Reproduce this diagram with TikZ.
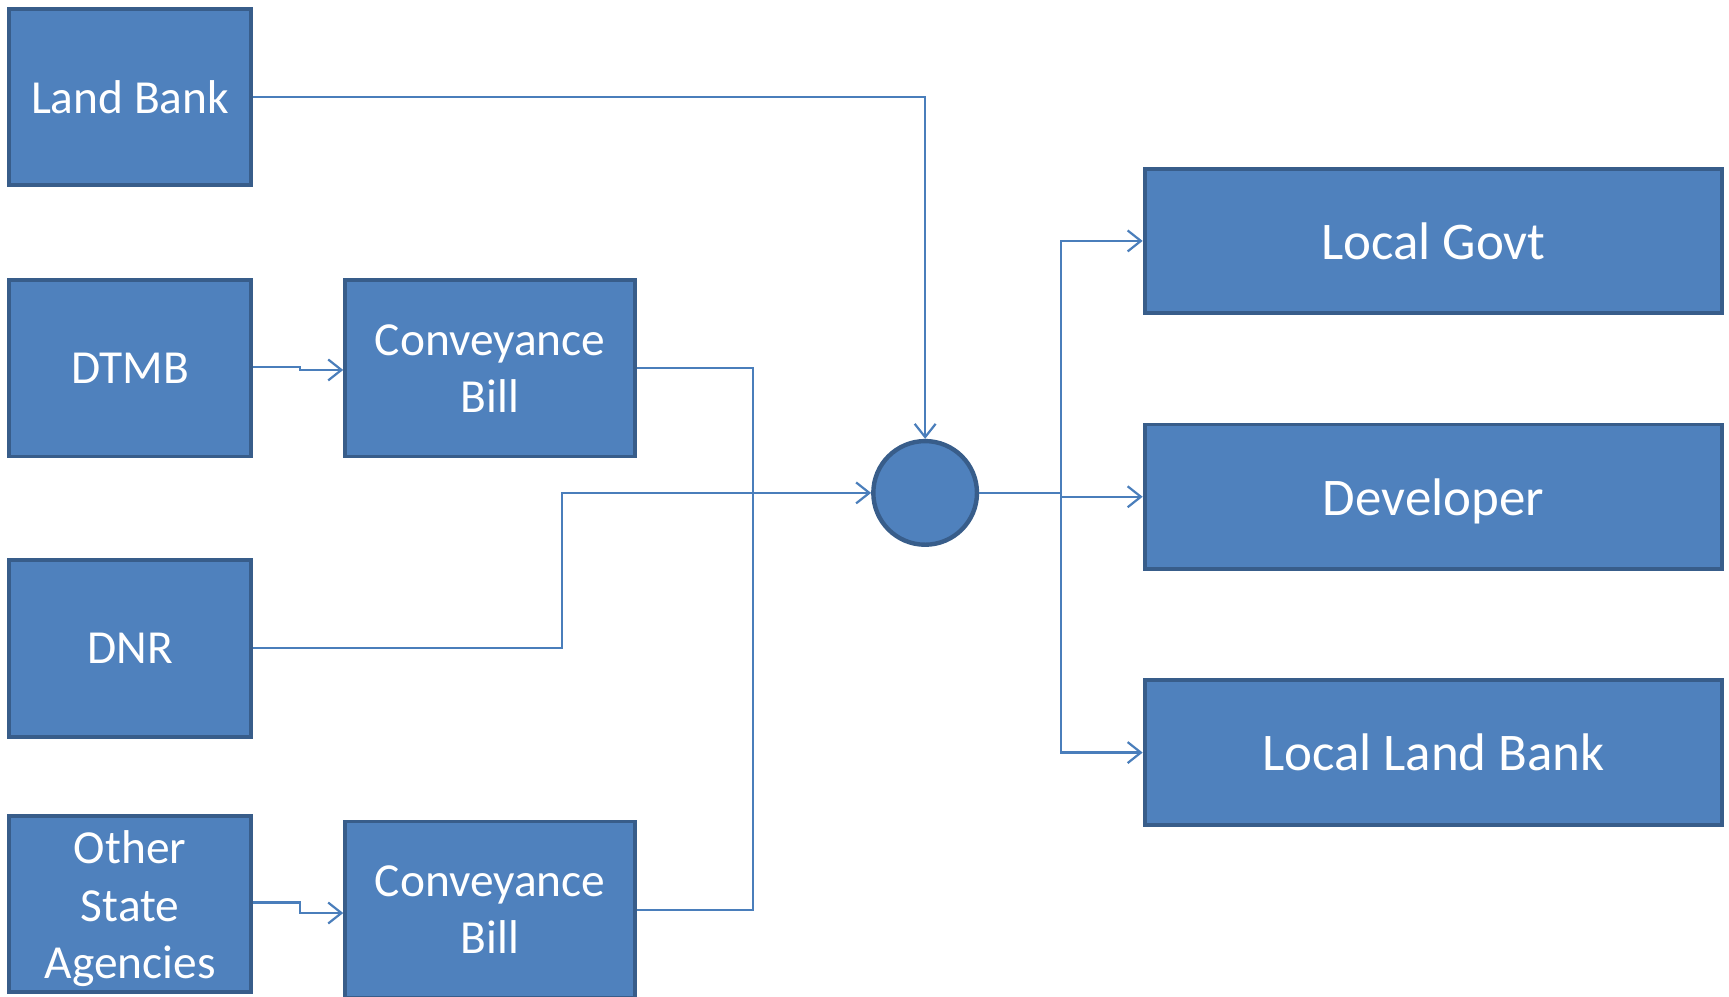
\documentclass[tikz,border=0pt]{standalone}
\usepackage{fontspec}
\setmainfont{Carlito}
\usetikzlibrary{arrows.meta}
\definecolor{boxfill}{HTML}{4F81BD}
\definecolor{boxline}{HTML}{385D8A}
\definecolor{connline}{HTML}{4A7EBB}
\begin{document}
\begin{tikzpicture}[x=1pt,y=-1pt,
  blk/.style={draw=boxline, fill=boxfill, line width=3.5pt, text=white, align=center,
    inner sep=0pt, font=\fontsize{43}{52}\selectfont},
  smallblk/.style={blk, minimum width=220pt, minimum height=160pt},
  billblk/.style={blk, minimum width=263pt, minimum height=160pt},
  wideblk/.style={blk, minimum width=524pt, minimum height=131pt, font=\fontsize{48}{58}\selectfont},
  hubnode/.style={circle, draw=boxline, fill=boxfill, line width=4pt, minimum size=94pt, inner sep=0pt},
  conn/.style={draw=connline, line width=2pt},
  arr/.style={conn, -{Straight Barb[length=12pt,width=19pt,line width=2pt]}}
]
\useasboundingbox (0,0) rectangle (1568,904);
\clip (0,0) rectangle (1568,904);

\node[smallblk] (lb)   at (118,88)  {Land Bank};
\node[smallblk] (dtmb) at (118,334) {DTMB};
\node[billblk]  (cb1)  at (444.5,334) {Conveyance\\Bill};
\node[smallblk] (dnr)  at (118,588) {DNR};
\node[smallblk] (osa)  at (118,820) {\raisebox{-4pt}[\height][\depth]{\parbox{220pt}{\centering Other\\State\\Agencies}}};
\node[billblk]  (cb2)  at (444.5,825) {Conveyance\\Bill};
\node[hubnode]  (hub)  at (839,447) {};
\node[wideblk]  (lg)   at (1300,218.5) {Local Govt};
\node[wideblk]  (dev)  at (1300,450.5) {\vphantom{l}\smash{Developer}};
\node[wideblk]  (llb)  at (1300,682.5) {Local Land Bank};

\coordinate (bus) at (683,447);
\coordinate (dj) at (510,447);
\coordinate (split) at (962,447);

\draw[arr] (lb.east) -| (hub.north);
\draw[arr] ([yshift=1.5pt]dtmb.east) -- ++(42,0) |- ([yshift=-1.5pt]cb1.west);
\draw[arr] ([yshift=1.5pt]osa.east) -- ++(42,0) |- ([yshift=-3pt]cb2.west);
\draw[conn] (cb1.east) -| (bus);
\draw[conn] (cb2.east) -| (bus);
\draw[arr] (dnr.east) -| (dj) -- (hub.west);
\draw[conn] (hub.east) -- (split);
\draw[arr] (split) |- (lg.west);
\draw[arr] (split) |- (dev.west);
\draw[arr] (split) |- (llb.west);
\end{tikzpicture}
\end{document}
